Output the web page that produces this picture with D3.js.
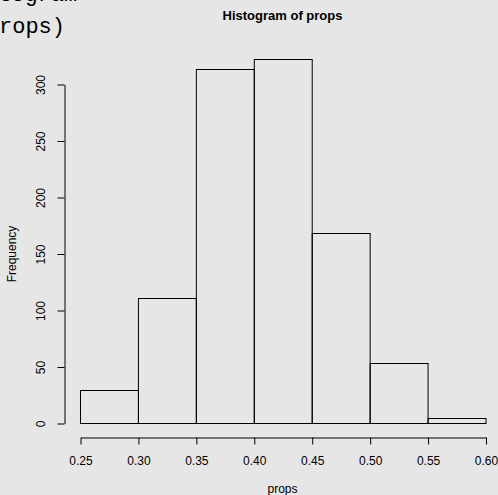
<!DOCTYPE html>
<html><head><meta charset="utf-8">
<script src="https://cdn.jsdelivr.net/npm/d3@7"></script>
<style>
html,body{margin:0;padding:0;background:#e6e6e6;}
svg{display:block;}
</style></head>
<body>
<script>
const binEdges = [0.25, 0.30, 0.35, 0.40, 0.45, 0.50, 0.55, 0.60];
const frequencies = [29, 111, 313, 322, 168, 53, 4];
const xTicks = [0.25, 0.30, 0.35, 0.40, 0.45, 0.50, 0.55, 0.60];
const yTicks = [0, 50, 100, 150, 200, 250, 300];
const titleText = "Histogram of props";
const xLabel = "props";
const yLabel = "Frequency";
const codeLines = ["togram", "rops)"];

const W = 498, H = 495;
const svg = d3.select("body").append("svg").attr("width", W).attr("height", H);
svg.append("rect").attr("width", W).attr("height", H).attr("fill", "#e6e6e6");

const x = d3.scaleLinear().domain([0.25, 0.60]).range([80, 485.5]);
const y = d3.scaleLinear().domain([0, 300]).range([423, 84]);

const bins = frequencies.map((f, i) => ({x0: binEdges[i], x1: binEdges[i + 1], f}));

svg.append("g").selectAll("rect").data(bins).join("rect")
  .attr("x", d => x(d.x0) + 0.5)
  .attr("y", d => Math.round(y(d.f)) + 0.5)
  .attr("width", d => x(d.x1) - x(d.x0))
  .attr("height", d => Math.round(y(0)) - Math.round(y(d.f)))
  .attr("fill", "none").attr("stroke", "#000").attr("stroke-width", 1);

const font = "'Liberation Sans', Arial, sans-serif";

// x axis
const xAxis = d3.axisBottom(x).tickValues(xTicks).tickFormat(d3.format(".2f")).tickSizeOuter(0).tickSizeInner(7).tickPadding(12);
const gx = svg.append("g").attr("transform", "translate(0.5,437.5)").call(xAxis);
gx.select(".domain").attr("stroke", "#000");
gx.selectAll(".tick line").attr("stroke", "#000");
gx.selectAll("text").attr("font-family", font).attr("font-size", 12).attr("fill", "#000");

// y axis
const yAxis = d3.axisLeft(y).tickValues(yTicks).tickSizeOuter(0).tickSizeInner(7).tickPadding(0);
const gy = svg.append("g").attr("transform", "translate(64.5,0.5)").call(yAxis);
gy.select(".domain").attr("stroke", "#000");
gy.selectAll(".tick line").attr("stroke", "#000");
gy.selectAll("text")
  .attr("font-family", font).attr("font-size", 12).attr("fill", "#000")
  .attr("x", null).attr("dy", null)
  .attr("text-anchor", "middle")
  .attr("transform", "translate(-20,0) rotate(-90)");

// title
svg.append("text").attr("x", 282.5).attr("y", 20).attr("text-anchor", "middle")
  .attr("font-family", font).attr("font-size", 13).attr("font-weight", "bold").text(titleText);

svg.append("text").attr("x", 282.5).attr("y", 493).attr("text-anchor", "middle")
  .attr("font-family", font).attr("font-size", 12).text(xLabel);

svg.append("text").attr("transform", "translate(16,254) rotate(-90)").attr("text-anchor", "middle")
  .attr("font-family", font).attr("font-size", 12).text(yLabel);

// cut-off code text at top-left
const mono = "'Liberation Mono', 'DejaVu Sans Mono', monospace";
svg.append("text").attr("x", -2).attr("y", 1).attr("font-family", mono).attr("font-size", 22).text(codeLines[0]);
svg.append("text").attr("x", -1).attr("y", 33).attr("font-family", mono).attr("font-size", 22).text(codeLines[1]);
</script>
</body></html>
